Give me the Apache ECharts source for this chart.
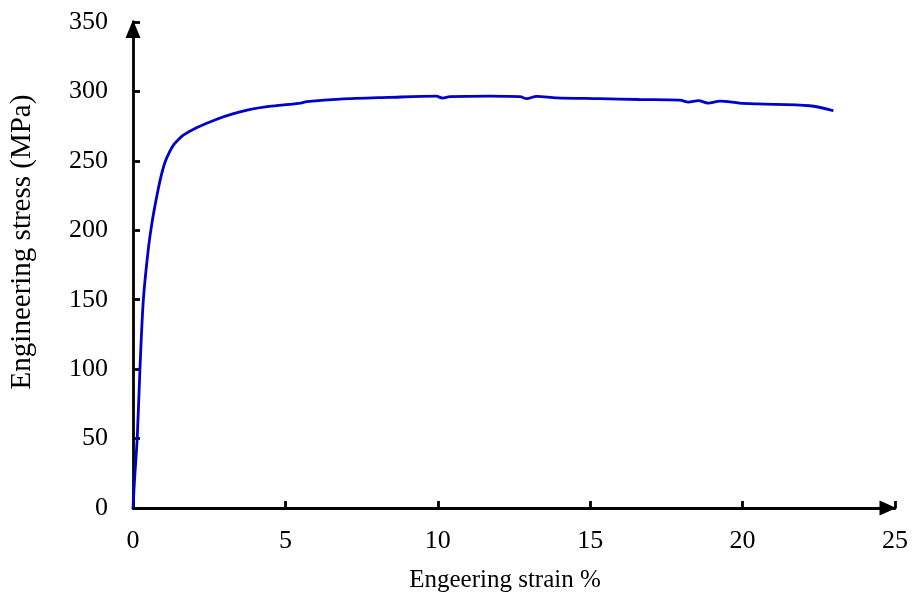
<!DOCTYPE html>
<html>
<head>
<meta charset="utf-8">
<script src="https://cdn.jsdelivr.net/npm/echarts@6/dist/echarts.min.js"></script>
<style>html,body{margin:0;padding:0;background:#fff;}#c{width:912px;height:594px;}</style>
</head>
<body>
<div id="c"></div>
<script>
const strain = [0, 0.05, 0.14, 0.23, 0.34, 0.5, 0.62, 0.75, 0.9, 1.05, 1.2, 1.35, 1.5, 1.65, 2.1, 2.75, 3.3, 3.85, 4.4, 4.95, 5.5, 5.7, 6.8, 8.4, 9.95, 10.15, 10.4, 11.7, 12.7, 12.92, 13.24, 13.9, 15.3, 16.6, 17.95, 18.22, 18.55, 18.87, 19.26, 19.9, 20.5, 22.2, 22.98];
const stress = [0, 20, 51, 101, 150, 186, 205, 221, 237, 249, 256.5, 262, 265.5, 268.5, 274, 280, 284, 287, 289, 290.3, 291.6, 292.6, 294.5, 295.7, 296.6, 295.2, 296.2, 296.6, 296.2, 294.8, 296.5, 295.4, 294.8, 294.2, 293.7, 292.3, 293.4, 291.6, 293, 291.6, 291, 289.7, 286.1];
const xTitle = 'Engeering strain %';
const yTitle = 'Engineering stress (MPa)';

const data = strain.map((s, i) => [s, stress[i]]);
const font = 'Liberation Serif';
const chart = echarts.init(document.getElementById('c'));
chart.setOption({
  backgroundColor: '#fff',
  animation: false,
  grid: { left: 133, right: 17, top: 22, bottom: 86, outerBoundsMode: 'none', containLabel: false },
  xAxis: {
    type: 'value', min: 0, max: 25, interval: 5,
    name: xTitle, nameLocation: 'middle', nameGap: 60,
    nameTextStyle: { fontFamily: font, fontSize: 25, color: '#000', padding: [0, 18, 0, 0] },
    axisLine: { show: true, onZero: false, lineStyle: { color: '#000', width: 2.8 }, symbol: ['none', 'triangle'], symbolSize: [15, 17], symbolOffset: [0, -7] },
    axisTick: { show: true, inside: true, length: 7, lineStyle: { color: '#000', width: 2.8 } },
    axisLabel: { fontFamily: font, fontSize: 26, color: '#000', margin: 20 },
    splitLine: { show: false }
  },
  yAxis: {
    type: 'value', min: 0, max: 350, interval: 50,
    name: yTitle, nameLocation: 'middle', nameGap: 96,
    nameTextStyle: { fontFamily: font, fontSize: 29, color: '#000', padding: [0, 0, 0, 46] },
    axisLine: { show: true, onZero: false, lineStyle: { color: '#000', width: 2.8 }, symbol: ['none', 'triangle'], symbolSize: [15, 18], symbolOffset: [0, -7] },
    axisTick: { show: true, inside: true, length: 7, lineStyle: { color: '#000', width: 2.8 } },
    axisLabel: { fontFamily: font, fontSize: 26, color: '#000', margin: 25 },
    splitLine: { show: false }
  },
  series: [{
    type: 'line', data: data, showSymbol: false, smooth: 0.3,
    lineStyle: { color: '#0000cc', width: 2.8 }
  }]
});
</script>
</body>
</html>
